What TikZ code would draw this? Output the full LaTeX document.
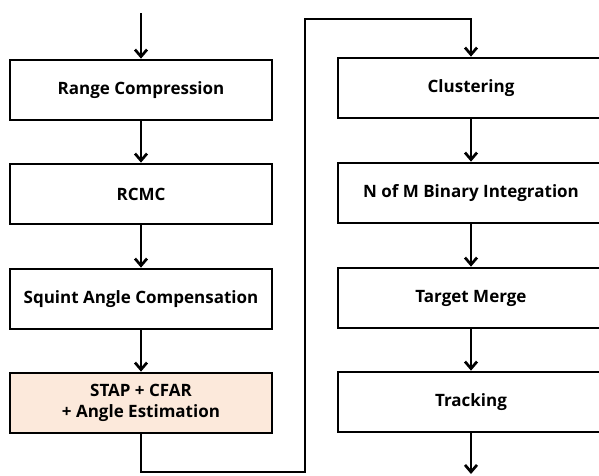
\documentclass[tikz,border=0pt]{standalone}
\usepackage{fontspec}
\setmainfont{Open Sans}
\usetikzlibrary{arrows.meta}
\definecolor{stapfill}{HTML}{FCE9DB}

\begin{document}
\begin{tikzpicture}[x = 1pt, y = -1pt,
    procbox/.style = {rectangle, draw = black, line width = 2.7pt, minimum width = 262pt, minimum height = 60pt, align = center, font = \bfseries\fontsize{17}{21}\selectfont},
    flow/.style = {line width = 2.7pt, -{Straight Barb[length = 7pt, width = 12pt, line width = 2.7pt]}}]

	\useasboundingbox (0, 0) rectangle (599, 475);

	\node (RC)   at (141,  90) [procbox] {Range Compression};
	\node (RCMC) at (141, 194) [procbox] {RCMC};
	\node (SAC)  at (141, 299) [procbox] {Squint Angle Compensation};
	\node (STAP) at (141, 403) [procbox, fill = stapfill] {STAP + CFAR\\+ Angle Estimation};
	\node (CL)   at (471,  88) [procbox, minimum width = 266pt] {Clustering};
	\node (NMB)  at (471, 193) [procbox, minimum width = 266pt] {N of M Binary Integration};
	\node (TM)   at (471, 298) [procbox, minimum width = 266pt] {Target Merge};
	\node (TR)   at (471, 402) [procbox, minimum width = 266pt] {Tracking};

	\coordinate (IN)    at (141,  13);
	\coordinate (OUT)   at (471, 474);
	\coordinate (loopL) at (305, 472);
	\coordinate (loopT) at (305,  19);

    \foreach \from/\to in {IN/RC, RC/RCMC, RCMC/SAC, SAC/STAP, CL/NMB, NMB/TM, TM/TR, TR/OUT}
    	\draw [flow] (\from) -- (\to);

    \draw [flow, line join = miter] (STAP) |- (loopL) -- (loopT) -| (CL);

\end{tikzpicture}
\end{document}
